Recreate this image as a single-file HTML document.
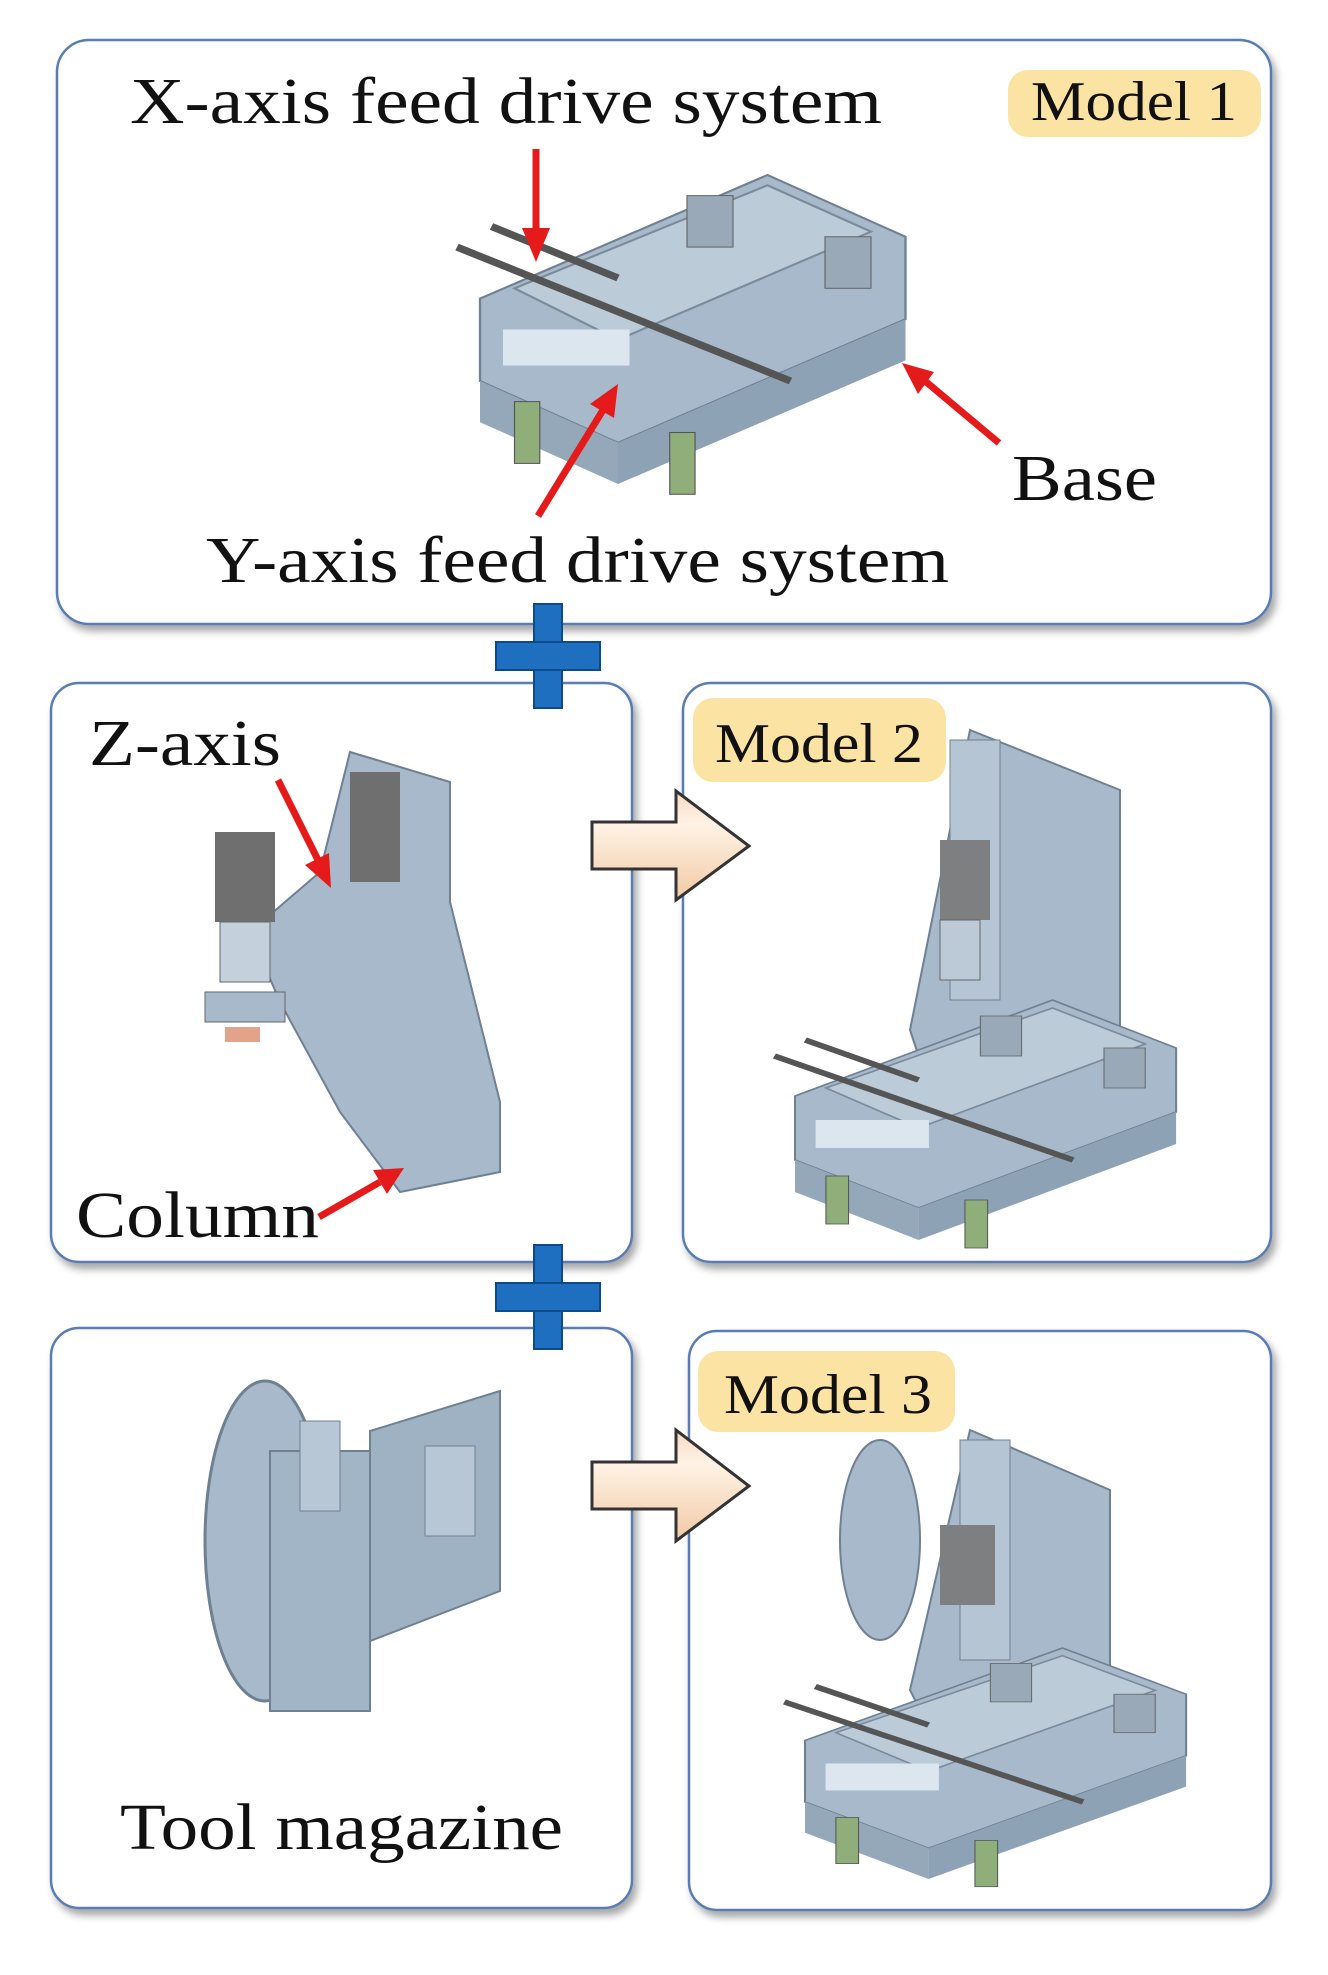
<!DOCTYPE html>
<html><head><meta charset="utf-8"><style>html,body{margin:0;padding:0;background:#fff}svg{display:block}</style></head>
<body>
<svg width="1328" height="1975" viewBox="0 0 1328 1975" xmlns="http://www.w3.org/2000/svg" font-family="Liberation Serif, serif">
<defs>
<filter id="sh" x="-5%" y="-5%" width="110%" height="110%"><feDropShadow dx="4" dy="6" stdDeviation="4" flood-color="#000" flood-opacity="0.35"/></filter>
<linearGradient id="ag" x1="0" y1="0" x2="0" y2="1"><stop offset="0" stop-color="#f6d9bf"/><stop offset="0.3" stop-color="#fff3e6"/><stop offset="1" stop-color="#f1c9a5"/></linearGradient>
<g id="m1">
<polygon points="0,120 250,0 370,60 370,140 120,260 0,200" fill="#a7b9ca" stroke="#6f8091" stroke-width="2"/>
<polygon points="30,110 250,10 340,55 120,160" fill="#bccbd8" stroke="#7a8b9c" stroke-width="2"/>
<polygon points="0,200 120,260 120,300 0,240" fill="#95a8ba"/>
<polygon points="120,260 370,140 370,180 120,300" fill="#8ea2b5"/>
<rect x="20" y="150" width="110" height="35" fill="#dce6ef"/>
<line x1="-20" y1="70" x2="270" y2="200" stroke="#555" stroke-width="7"/>
<line x1="10" y1="50" x2="120" y2="100" stroke="#555" stroke-width="7"/>
<rect x="30" y="220" width="22" height="60" fill="#8fae7a" stroke="#555"/>
<rect x="165" y="250" width="22" height="60" fill="#8fae7a" stroke="#555"/>
<rect x="180" y="20" width="40" height="50" fill="#9aa9b8" stroke="#666"/>
<rect x="300" y="60" width="40" height="50" fill="#9aa9b8" stroke="#666"/>
</g>
</defs>
<g fill="#fff" stroke="#5a7bb5" stroke-width="2.5" filter="url(#sh)">
<rect x="57" y="40" width="1214" height="584" rx="32"/>
<rect x="51" y="683" width="581" height="579" rx="28"/>
<rect x="683" y="683" width="588" height="579" rx="28"/>
<rect x="51" y="1328" width="581" height="580" rx="28"/>
<rect x="689" y="1331" width="582" height="579" rx="28"/>
</g>
<g fill="#1f6fc0" stroke="#0d4a8a" stroke-width="2">
<rect x="534" y="604" width="28" height="104"/><rect x="496" y="642" width="104" height="28"/>
<rect x="534" y="1245" width="28" height="104"/><rect x="496" y="1283" width="104" height="28"/>
</g>
<g fill="url(#ag)" stroke="#333" stroke-width="3">
<polygon points="592,822 676,822 676,791 749,846 676,900 676,869 592,869"/>
<polygon points="592,1462 676,1462 676,1430 749,1486 676,1541 676,1509 592,1509"/>
</g>
<g fill="#fbe09a" opacity="0.9">
<rect x="1008" y="70" width="253" height="67" rx="20"/>
<rect x="693" y="698" width="253" height="84" rx="20"/>
<rect x="698" y="1351" width="257" height="81" rx="20"/>
</g>
<use href="#m1" transform="translate(480,175) scale(1.15,1.03)"/>
<g transform="translate(790,730)">
<polygon points="180,0 330,60 330,420 180,480 120,300" fill="#a7b9ca" stroke="#6f8091" stroke-width="2"/>
<rect x="160" y="10" width="50" height="260" fill="#b5c5d4" stroke="#6f8091"/>
<rect x="150" y="110" width="50" height="80" fill="#7e7f80"/>
<rect x="150" y="190" width="40" height="60" fill="#bcc9d6" stroke="#666"/>
</g>
<use href="#m1" transform="translate(795,1000) scale(1.03,0.8)"/>
<g transform="translate(200,752)">
<polygon points="150,0 250,30 250,150 300,350 300,420 200,440 140,360 80,250 50,180 120,120" fill="#a7b9ca" stroke="#6f8091" stroke-width="2"/>
<rect x="150" y="20" width="50" height="110" fill="#6f6f70"/>
<rect x="15" y="80" width="60" height="90" fill="#6f6f70"/>
<rect x="20" y="170" width="50" height="60" fill="#c4d1dd" stroke="#666"/>
<rect x="5" y="240" width="80" height="30" fill="#a7b9ca" stroke="#666"/>
<rect x="25" y="275" width="35" height="15" fill="#e3a28a"/>
</g>
<g transform="translate(190,1391)">
<ellipse cx="75" cy="150" rx="60" ry="160" fill="#a7b9ca" stroke="#6f8091" stroke-width="3"/>
<polygon points="180,40 310,0 310,200 180,250" fill="#9fb2c4" stroke="#6f8091" stroke-width="2"/>
<rect x="235" y="55" width="50" height="90" fill="#b8c7d5" stroke="#6f8091"/>
<rect x="80" y="60" width="100" height="260" fill="#a2b5c7" stroke="#6f8091" stroke-width="2"/>
<rect x="110" y="30" width="40" height="90" fill="#b8c7d5" stroke="#6f8091"/>
</g>
<g transform="translate(790,1430)">
<ellipse cx="90" cy="110" rx="40" ry="100" fill="#a7b9ca" stroke="#6f8091" stroke-width="2"/>
<polygon points="180,0 320,60 320,330 180,380 120,260" fill="#a7b9ca" stroke="#6f8091" stroke-width="2"/>
<rect x="170" y="10" width="50" height="220" fill="#b5c5d4" stroke="#6f8091"/>
<rect x="150" y="95" width="55" height="80" fill="#7e7f80"/>
</g>
<use href="#m1" transform="translate(805,1648) scale(1.03,0.77)"/>
<g stroke="#e51b1b" stroke-width="7" fill="#e51b1b">
<line x1="536" y1="149" x2="536" y2="232"/><polygon points="522,228 550,228 536,262" stroke="none"/>
<line x1="538" y1="516" x2="603" y2="410"/><polygon points="590,404 614,418 618,384" stroke="none"/>
<line x1="999" y1="443" x2="925" y2="381"/><polygon points="918,394 934,372 902,363" stroke="none"/>
<line x1="278" y1="780" x2="318" y2="860"/><polygon points="305,865 329,853 331,888" stroke="none"/>
<line x1="319" y1="1217" x2="380" y2="1182"/><polygon points="373,1170 387,1194 404,1168" stroke="none"/>
</g>
<g fill="#111" font-size="66">
<text x="130" y="123" textLength="752" lengthAdjust="spacingAndGlyphs">X-axis feed drive system</text>
<text x="206" y="582" textLength="743" lengthAdjust="spacingAndGlyphs">Y-axis feed drive system</text>
<text x="1012" y="500" textLength="145" lengthAdjust="spacingAndGlyphs">Base</text>
<text x="89" y="765" textLength="192" lengthAdjust="spacingAndGlyphs">Z-axis</text>
<text x="76" y="1237" textLength="243" lengthAdjust="spacingAndGlyphs">Column</text>
<text x="120" y="1849" textLength="443" lengthAdjust="spacingAndGlyphs">Tool magazine</text>
</g>
<g fill="#111" font-size="56">
<text x="1031" y="120" textLength="206" lengthAdjust="spacingAndGlyphs">Model 1</text>
<text x="715" y="762" textLength="208" lengthAdjust="spacingAndGlyphs">Model 2</text>
<text x="724" y="1413" textLength="208" lengthAdjust="spacingAndGlyphs">Model 3</text>
</g>
</svg>
</body></html>
